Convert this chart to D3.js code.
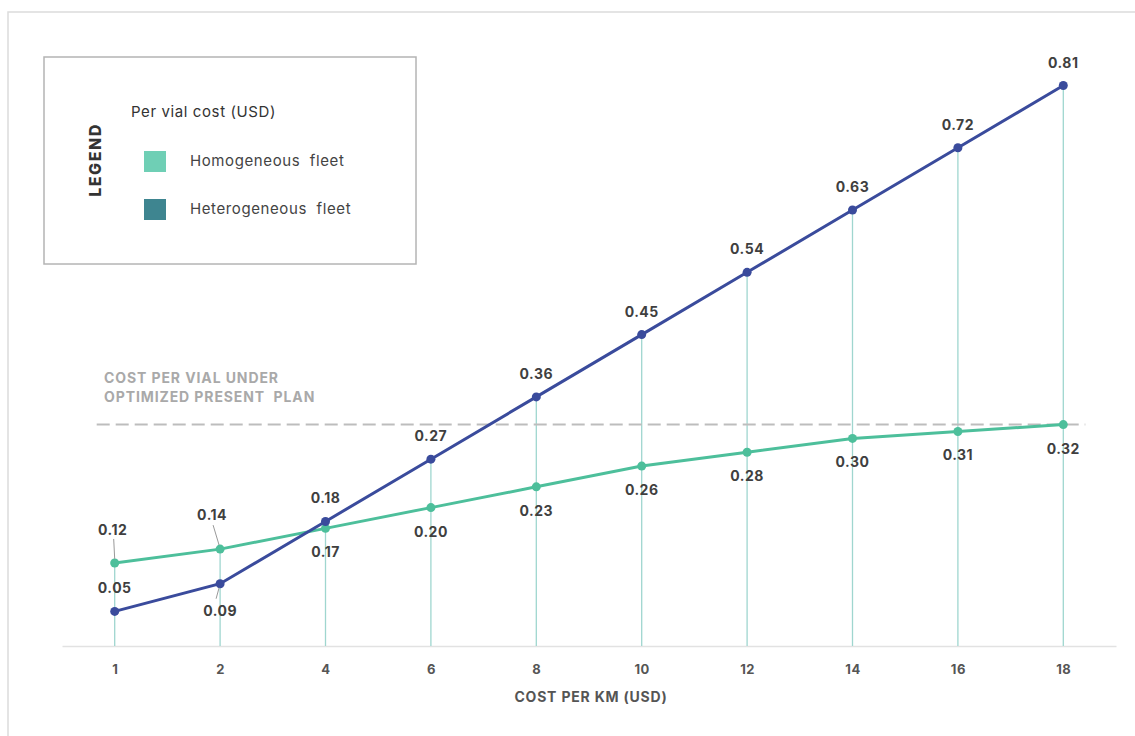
<!DOCTYPE html>
<meta charset="utf-8">
<script src="https://d3js.org/d3.v7.min.js"></script>
<style>
  body { margin: 0; background: #fff; }
  text { font-family: Inter, "Open Sans", sans-serif; }
</style>
<div id="my_dataviz"></div>
<script>

// data
var categories = ["1", "2", "4", "6", "8", "10", "12", "14", "16", "18"];
var homogeneous = [0.12, 0.14, 0.17, 0.20, 0.23, 0.26, 0.28, 0.30, 0.31, 0.32];
var heterogeneous = [0.05, 0.09, 0.18, 0.27, 0.36, 0.45, 0.54, 0.63, 0.72, 0.81];
var presentPlanCost = 0.32;
var legendItems = ["Homogeneous  fleet", "Heterogeneous  fleet"];

var width = 1135, height = 736;

var svg = d3.select("#my_dataviz")
  .append("svg")
    .attr("width", width)
    .attr("height", height);

// light frame round the whole picture
svg.append("rect")
  .attr("x", 8).attr("y", 12)
  .attr("width", 1140).attr("height", 740)
  .attr("fill", "none")
  .attr("stroke", "#dcdcdc")
  .attr("stroke-width", 1.5);

var x = d3.scalePoint()
  .domain(categories)
  .range([62, 1116])
  .padding(0.5);

var y = d3.scaleLinear()
  .domain([0, 0.81])
  .range([646, 85.5]);

// x axis: plain grey line plus bold labels
var xAxis = svg.append("g")
  .attr("transform", "translate(0," + y(0) + ")")
  .call(d3.axisBottom(x).tickSize(0).tickPadding(19));
xAxis.select(".domain").attr("stroke", "#e2e2e2").attr("stroke-width", 1.5);
xAxis.selectAll("text")
  .style("font-family", "Inter, sans-serif")
  .style("font-size", "13px")
  .style("font-weight", 700)
  .style("letter-spacing", "0.5px")
  .attr("fill", "#555");

svg.append("text")
  .attr("x", 591).attr("y", 702)
  .attr("text-anchor", "middle")
  .style("font-size", "14px")
  .style("font-weight", 700)
  .style("letter-spacing", "0.8px")
  .attr("fill", "#555")
  .text("COST PER KM (USD)");

// vertical drop lines from the highest point down to the axis
svg.selectAll(".drop")
  .data(categories)
  .enter()
  .append("line")
    .attr("x1", function(d) { return x(d); })
    .attr("x2", function(d) { return x(d); })
    .attr("y1", y(0))
    .attr("y2", function(d, i) { return y(Math.max(homogeneous[i], heterogeneous[i])); })
    .attr("stroke", "#9fd6cf")
    .attr("stroke-width", 1.3);

// reference line: cost per vial under optimized present plan
svg.append("line")
  .attr("x1", x(categories[0]) - 18)
  .attr("x2", x(categories[categories.length - 1]) + 22)
  .attr("y1", y(presentPlanCost))
  .attr("y2", y(presentPlanCost))
  .attr("stroke", "#bdbdbd")
  .attr("stroke-width", 2)
  .attr("stroke-dasharray", "13,6");

svg.append("text")
  .attr("x", 104).attr("y", 383)
  .style("font-size", "14px").style("font-weight", 700)
  .style("letter-spacing", "0.9px")
  .attr("fill", "#a9a9a9")
  .text("COST PER VIAL UNDER");
svg.append("text")
  .attr("x", 104).attr("y", 402)
  .style("font-size", "14px").style("font-weight", 700)
  .style("letter-spacing", "0.9px")
  .style("white-space", "pre")
  .attr("fill", "#a9a9a9")
  .text("OPTIMIZED PRESENT  PLAN");

var line = d3.line()
  .x(function(d, i) { return x(categories[i]); })
  .y(function(d) { return y(d); });

var homColor = "#4dbf9b", hetColor = "#3a4b9c";

svg.append("path")
  .datum(homogeneous)
  .attr("fill", "none")
  .attr("stroke", homColor)
  .attr("stroke-width", 3)
  .attr("d", line);

svg.append("path")
  .datum(heterogeneous)
  .attr("fill", "none")
  .attr("stroke", hetColor)
  .attr("stroke-width", 3)
  .attr("d", line);

svg.selectAll(".homdot")
  .data(homogeneous)
  .enter()
  .append("circle")
    .attr("cx", function(d, i) { return x(categories[i]); })
    .attr("cy", function(d) { return y(d); })
    .attr("r", 4.5)
    .attr("fill", homColor);

svg.selectAll(".hetdot")
  .data(heterogeneous)
  .enter()
  .append("circle")
    .attr("cx", function(d, i) { return x(categories[i]); })
    .attr("cy", function(d) { return y(d); })
    .attr("r", 4.5)
    .attr("fill", hetColor);

// value labels: heterogeneous above, homogeneous below,
// except at the first two stops where they swap and get leader lines
function label(v, i, dy, dx) {
  svg.append("text")
    .attr("x", x(categories[i]) + dx)
    .attr("y", y(v) + dy)
    .attr("text-anchor", "middle")
    .style("font-size", "14px")
    .style("font-weight", 700)
    .style("letter-spacing", "0.5px")
    .attr("fill", "#3f3f3f")
    .text(d3.format(".2f")(v));
}

heterogeneous.forEach(function(v, i) {
  if (i == 1) label(v, i, 32, 0);
  else label(v, i, -18, 0);
});
homogeneous.forEach(function(v, i) {
  if (i == 0) label(v, i, -28, -2);
  else if (i == 1) label(v, i, -29, -8);
  else label(v, i, 29, 0);
});

// small grey leader lines for the crowded labels
var leaders = [
  [x(categories[0]), y(homogeneous[0]) - 4, x(categories[0]) - 1, y(homogeneous[0]) - 24],
  [x(categories[1]) - 1, y(homogeneous[1]) - 4, x(categories[1]) - 7, y(homogeneous[1]) - 24],
  [x(categories[1]) - 1, y(heterogeneous[1]) + 4, x(categories[1]) - 4, y(heterogeneous[1]) + 15]
];
svg.selectAll(".leader")
  .data(leaders)
  .enter()
  .append("line")
    .attr("x1", function(d) { return d[0]; })
    .attr("y1", function(d) { return d[1]; })
    .attr("x2", function(d) { return d[2]; })
    .attr("y2", function(d) { return d[3]; })
    .attr("stroke", "#999")
    .attr("stroke-width", 1);

// legend box
var legend = svg.append("g");
legend.append("rect")
  .attr("x", 44).attr("y", 57)
  .attr("width", 372).attr("height", 207)
  .attr("fill", "#fff")
  .attr("stroke", "#b4b4b4")
  .attr("stroke-width", 1.5);

legend.append("text")
  .attr("transform", "translate(101,160) rotate(-90)")
  .attr("text-anchor", "middle")
  .style("font-size", "16px")
  .style("font-weight", 800)
  .style("letter-spacing", "1.5px")
  .attr("fill", "#333")
  .text("LEGEND");

legend.append("text")
  .attr("x", 131).attr("y", 117)
  .style("font-size", "15px")
  .style("letter-spacing", "0.6px")
  .attr("fill", "#333")
  .text("Per vial cost (USD)");

var swatchColors = ["#6fcfb5", "#3e8590"];
legend.selectAll(".sw")
  .data(legendItems)
  .enter()
  .append("rect")
    .attr("x", 144)
    .attr("y", function(d, i) { return 151 + i * 48; })
    .attr("width", 22).attr("height", 21)
    .attr("fill", function(d, i) { return swatchColors[i]; });

legend.selectAll(".lt")
  .data(legendItems)
  .enter()
  .append("text")
    .attr("x", 190)
    .attr("y", function(d, i) { return 166 + i * 48; })
    .style("font-size", "15px")
    .style("letter-spacing", "0.6px")
    .style("white-space", "pre")
    .attr("fill", "#444")
    .text(function(d) { return d; });

</script>
